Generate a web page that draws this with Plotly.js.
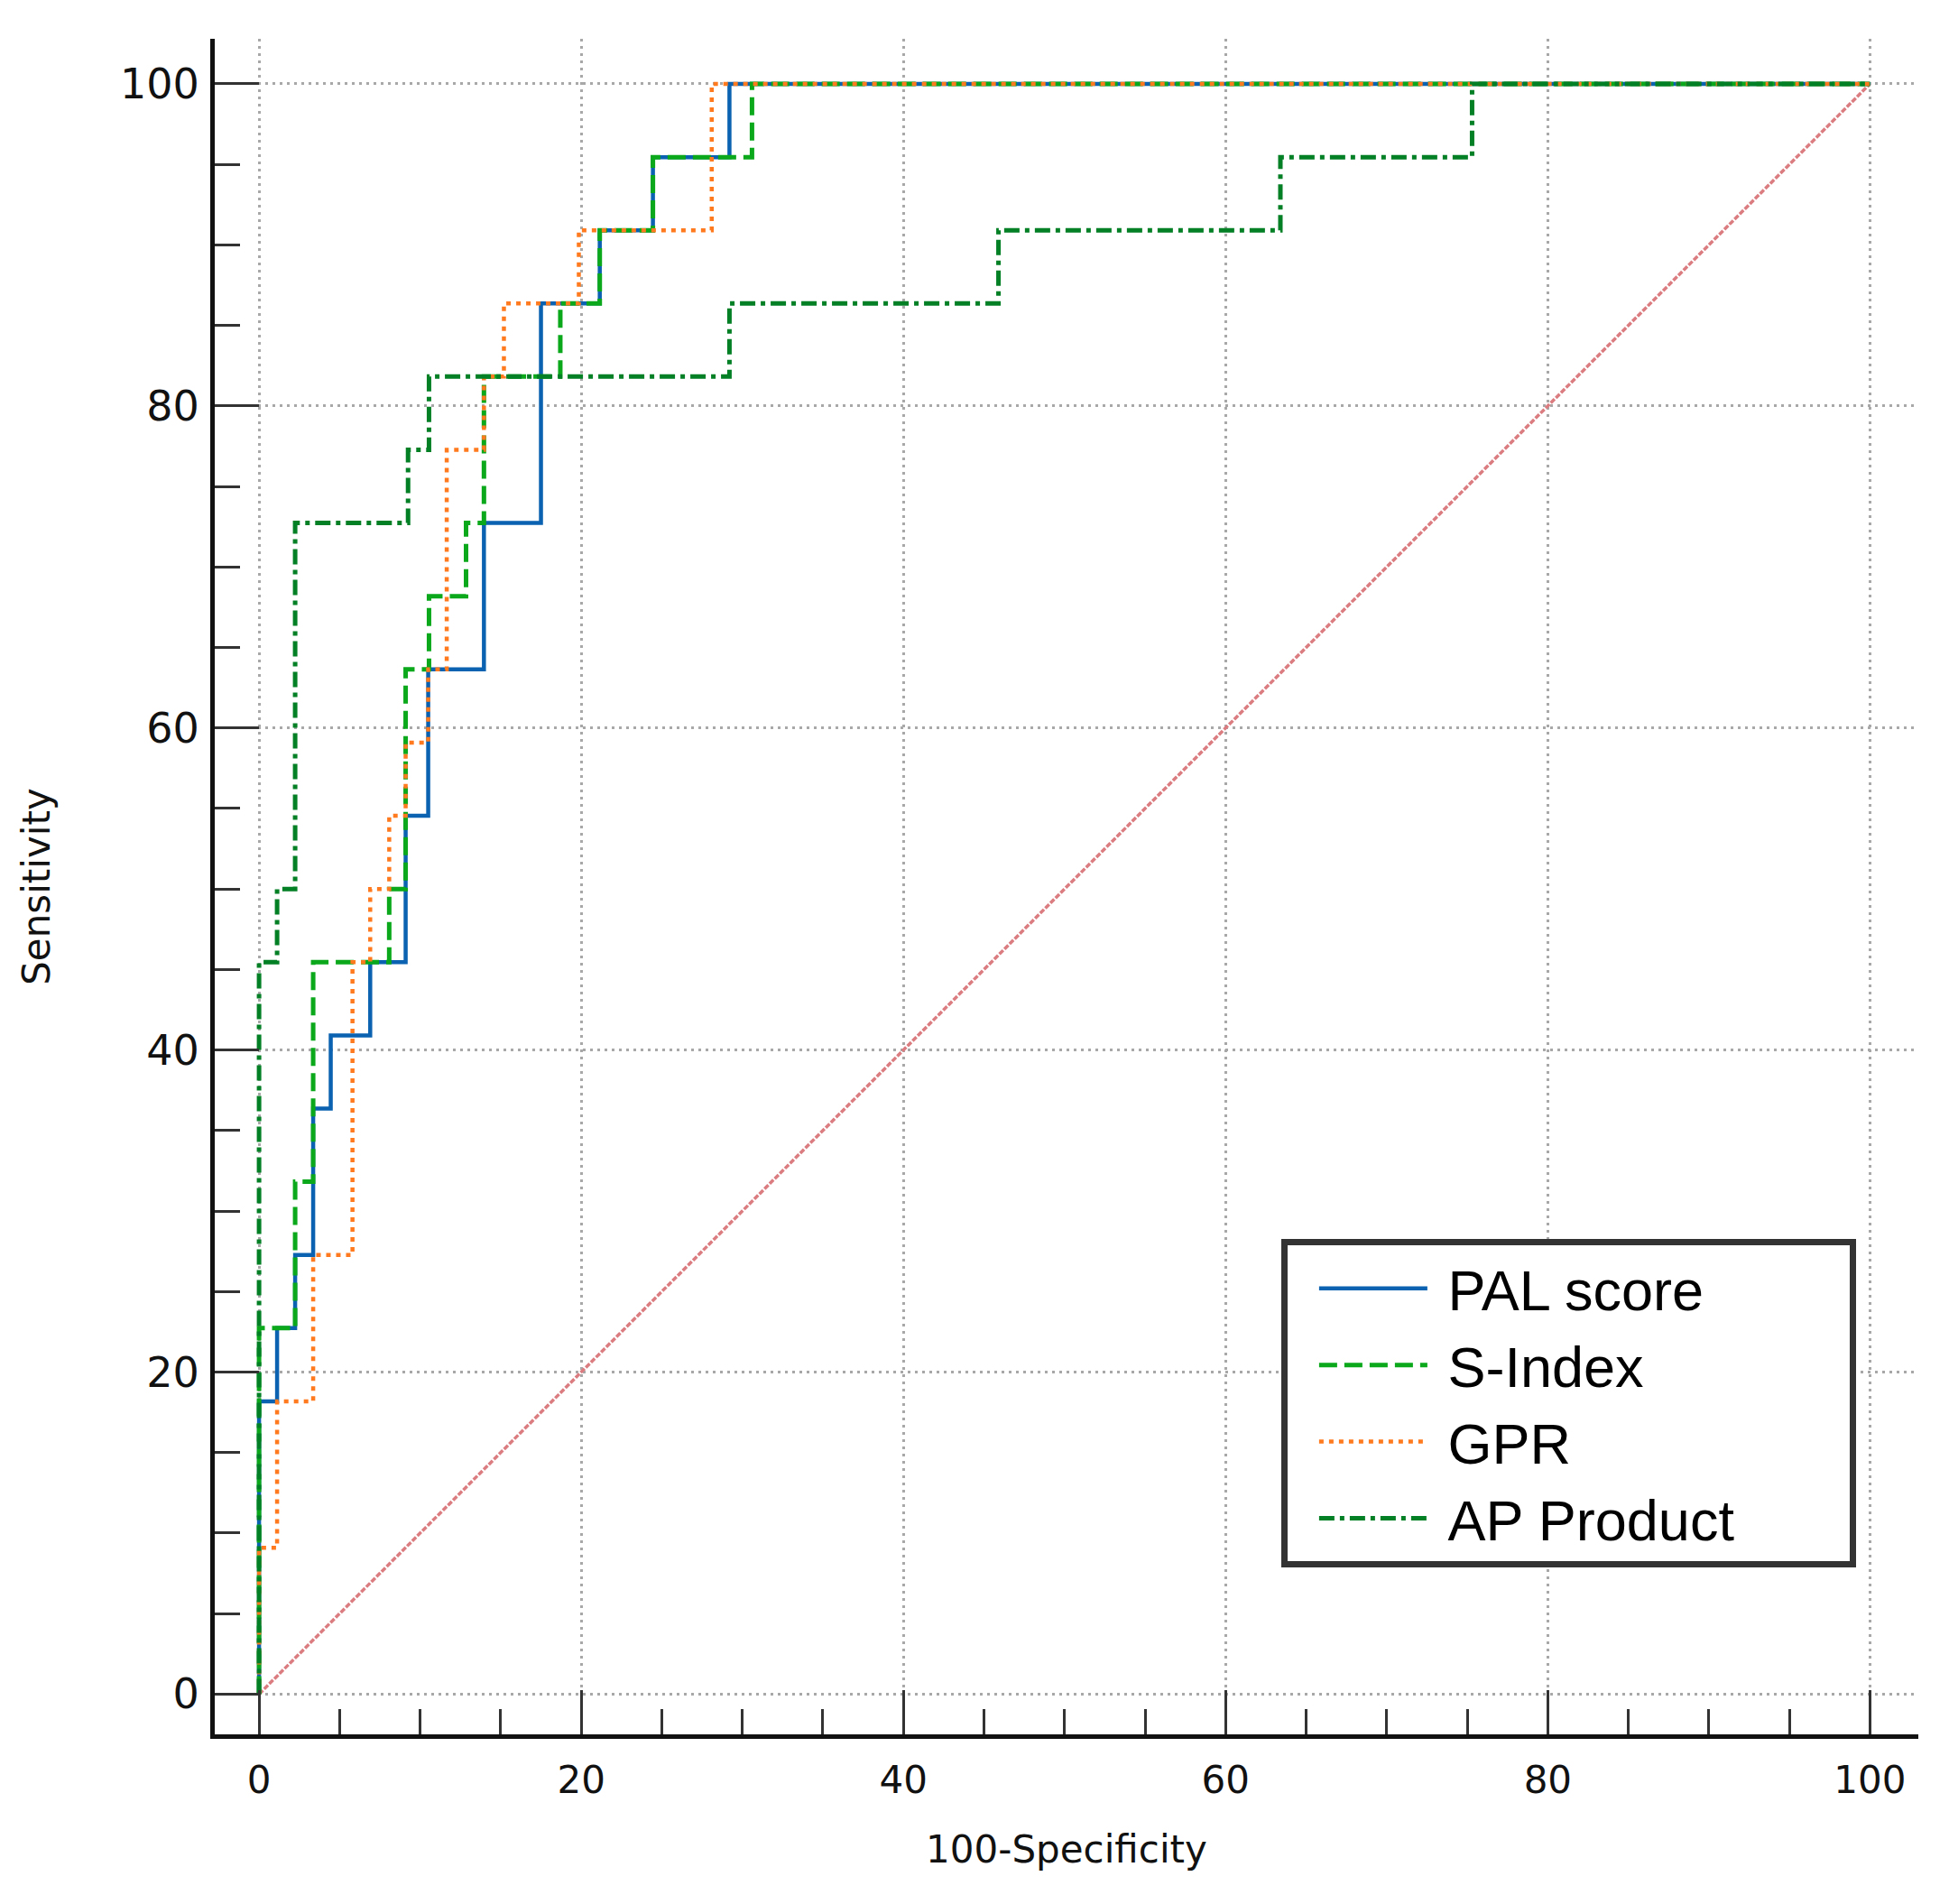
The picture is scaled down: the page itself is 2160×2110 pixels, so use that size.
<!DOCTYPE html>
<html>
<head>
<meta charset="utf-8">
<script src="https://cdn.plot.ly/plotly-3.0.1.min.js"></script>
<style>
  html, body { margin: 0; padding: 0; background: #fff; }
  #roc { width: 2160px; height: 2110px; }
</style>
</head>
<body>
<div id="roc"></div>
<script>
"use strict";

// ROC step points (100-specificity, sensitivity).
// Each point is where the curve rises; drawn with line.shape 'hv'.
var palX = [0, 0, 1.12, 2.24, 3.36, 4.45, 6.9, 9.1, 10.5, 13.96, 17.5, 21.15, 24.45, 29.2, 100];
var palY = [0, 18.18, 22.73, 27.27, 36.36, 40.91, 45.45, 54.55, 63.64, 72.73, 86.36, 90.91, 95.45, 100, 100];

var sIdxX = [0, 0, 2.24, 3.36, 8.08, 9.1, 10.55, 12.85, 13.96, 18.7, 21.15, 24.45, 30.6, 100];
var sIdxY = [0, 22.73, 31.82, 45.45, 50, 63.64, 68.18, 72.73, 81.82, 86.36, 90.91, 95.45, 100, 100];

var gprX = [0, 0, 1.12, 3.36, 5.8, 6.9, 8.08, 9.1, 10.5, 11.65, 13.96, 15.2, 19.85, 28.1, 100];
var gprY = [0, 9.09, 18.18, 27.27, 45.45, 50, 54.55, 59.09, 63.64, 77.27, 81.82, 86.36, 90.91, 100, 100];

var apX = [0, 0, 1.12, 2.24, 9.25, 10.55, 29.2, 45.9, 63.4, 75.3, 100];
var apY = [0, 45.45, 50, 72.73, 77.27, 81.82, 86.36, 90.91, 95.45, 100, 100];

var refX = [0, 100];
var refY = [0, 100];

var names = ['PAL score', 'S-Index', 'GPR', 'AP Product'];

// nbsp padding: gap after the legend swatch, extra room on the right of the box
var gap = '\u00a0';
var tail = '\u00a0\u00a0\u00a0\u00a0\u00a0\u00a0\u00a0';

var data = [
  {x: refX, y: refY, type: 'scatter', mode: 'lines', showlegend: false, hoverinfo: 'skip',
   line: {color: '#db7c80', width: 3.5, dash: '6px,2px'}},
  {x: palX, y: palY, name: gap + names[0], type: 'scatter', mode: 'lines',
   line: {shape: 'hv', color: '#0a62b0', width: 4.5}},
  {x: sIdxX, y: sIdxY, name: gap + names[1], type: 'scatter', mode: 'lines',
   line: {shape: 'hv', color: '#0aa81a', width: 5, dash: '20px,8px'}},
  {x: gprX, y: gprY, name: gap + names[2], type: 'scatter', mode: 'lines',
   line: {shape: 'hv', color: '#ff7a1e', width: 4.5, dash: '5px,6px'}},
  {x: apX, y: apY, name: gap + names[3] + tail, type: 'scatter', mode: 'lines',
   line: {shape: 'hv', color: '#037f25', width: 5, dash: '17px,6px,5px,6px'}}
];

var xTickFont = {family: 'DejaVu Sans, Verdana, sans-serif', size: 42, color: '#111'};
var yTickFont = {family: 'DejaVu Sans, Verdana, sans-serif', size: 46, color: '#111'};
var titleFont = {family: 'DejaVu Sans, Verdana, sans-serif', size: 42, color: '#111'};

var axisCommon = {
  tick0: 0,
  dtick: 20,
  ticks: 'inside',
  ticklen: 49,
  tickwidth: 3,
  tickcolor: '#333',
  showline: true,
  linecolor: '#111',
  linewidth: 5,
  showgrid: true,
  gridcolor: '#a8a8a8',
  gridwidth: 3,
  griddash: '3px,5px',
  zeroline: false,
  minor: {dtick: 5, ticks: 'inside', ticklen: 28, tickwidth: 3, tickcolor: '#333', showgrid: false}
};

var layout = {
  width: 2160,
  height: 2110,
  paper_bgcolor: '#fff',
  plot_bgcolor: '#fff',
  margin: {l: 238, r: 34, t: 43, b: 188},
  xaxis: Object.assign({}, axisCommon, {
    range: [-2.75, 103],
    tickfont: xTickFont,
    ticklabelstandoff: 10,
    title: {text: '100-Specificity', font: titleFont, standoff: 40}
  }),
  yaxis: Object.assign({}, axisCommon, {
    range: [-2.5, 102.8],
    tickfont: yTickFont,
    ticklabelstandoff: 3,
    title: {text: 'Sensitivity', font: titleFont, standoff: 66}
  }),
  legend: {
    x: 0.626, y: 0.292, xanchor: 'left', yanchor: 'top',
    bgcolor: '#fff',
    bordercolor: '#333',
    borderwidth: 7,
    itemwidth: 120,
    indentation: 30,
    tracegroupgap: 0,
    font: {family: 'Liberation Sans, Arial, sans-serif', size: 63, color: '#000'}
  },
  showlegend: true
};

Plotly.newPlot('roc', data, layout, {displayModeBar: false, staticPlot: true});
</script>
</body>
</html>
